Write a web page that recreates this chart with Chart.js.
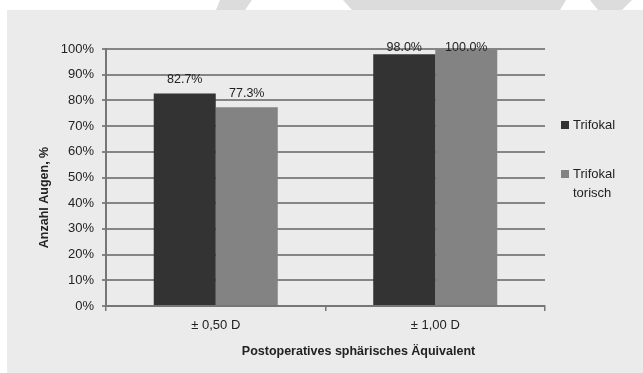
<!DOCTYPE html>
<html>
<head>
<meta charset="utf-8">
<script src="https://cdn.jsdelivr.net/npm/chart.js@4.4.1/dist/chart.umd.min.js"></script>
<style>
  html, body { margin: 0; padding: 0; background: #ffffff; }
  #wrap { width: 643px; height: 373px; }
</style>
</head>
<body>
<div id="wrap"><canvas id="c" width="643" height="373"></canvas></div>
<script>
// Kategorien (Zielbereich des sphärischen Äquivalents)
const categories = ['± 0,50 D', '± 1,00 D'];
// Serien
const seriesNames = ['Trifokal', 'Trifokal torisch'];
const trifokal = [82.7, 98.0];
const trifokalTorisch = [77.3, 100.0];
// Y-Achse
const yTicks = [0, 10, 20, 30, 40, 50, 60, 70, 80, 90, 100];
const yTitle = 'Anzahl Augen, %';
const xTitle = 'Postoperatives sphärisches Äquivalent';
// Legendentexte, zeilenweise umbrochen
const legendLines = [['Trifokal'], ['Trifokal', 'torisch']];

const COLORS = ['#333333', '#838383'];
const TEXT = '#222222';
const FONT = '"Liberation Sans", Arial, sans-serif';

Chart.defaults.font.family = FONT;
Chart.defaults.color = TEXT;

// Hintergrund: weiße Seite mit grauer Diagrammfläche
const backgroundPlugin = {
  id: 'panel',
  beforeDraw(chart) {
    const ctx = chart.ctx;
    ctx.save();
    ctx.fillStyle = '#ffffff';
    ctx.fillRect(0, 0, chart.width, chart.height);
    ctx.fillStyle = '#dcdcdd';
    const shapes = [
      [[220, 0], [252, 0], [245, 10], [216, 10]],
      [[343, 0], [566, 0], [560, 10], [352, 10]],
      [[590, 0], [632, 0], [622, 10], [598, 10]]
    ];
    shapes.forEach(p => {
      ctx.beginPath();
      ctx.moveTo(p[0][0], p[0][1]);
      for (let i = 1; i < p.length; i++) ctx.lineTo(p[i][0], p[i][1]);
      ctx.closePath();
      ctx.fill();
    });
    ctx.fillStyle = '#ebebeb';
    ctx.fillRect(7, 10, chart.width - 7, chart.height - 10);
    ctx.restore();
  }
};

// Wertebeschriftung über den Balken
const valueLabelPlugin = {
  id: 'valueLabels',
  afterDatasetsDraw(chart) {
    const ctx = chart.ctx;
    ctx.save();
    ctx.font = '12.5px ' + FONT;
    ctx.fillStyle = TEXT;
    ctx.textAlign = 'center';
    ctx.textBaseline = 'middle';
    chart.data.datasets.forEach((ds, di) => {
      const meta = chart.getDatasetMeta(di);
      meta.data.forEach((bar, i) => {
        const y = Math.max(bar.y - 14, chart.chartArea.top - 1);
        ctx.fillText(ds.data[i].toFixed(1) + '%', bar.x, y);
      });
    });
    ctx.restore();
  }
};

// Achsentitel und Legende
const decorPlugin = {
  id: 'decor',
  afterDraw(chart) {
    const ctx = chart.ctx;
    const area = chart.chartArea;
    ctx.save();
    ctx.fillStyle = TEXT;
    ctx.font = 'bold 12.5px ' + FONT;
    ctx.textAlign = 'center';
    ctx.textBaseline = 'middle';
    ctx.fillText(xTitle, area.left + area.width / 2 + 33, 352);
    ctx.save();
    ctx.translate(45, (area.top + area.bottom) / 2 + 20);
    ctx.rotate(-Math.PI / 2);
    ctx.fillText(yTitle, 0, 0);
    ctx.restore();

    // Legende
    ctx.font = '13px ' + FONT;
    ctx.textAlign = 'left';
    const rows = [125, 174];
    legendLines.forEach((lines, i) => {
      const y = rows[i];
      ctx.fillStyle = COLORS[i];
      ctx.fillRect(561, y - 4, 8, 8);
      ctx.fillStyle = TEXT;
      lines.forEach((t, j) => ctx.fillText(t, 573, y + j * 19));
    });
    ctx.restore();
  }
};

new Chart(document.getElementById('c'), {
  type: 'bar',
  data: {
    labels: categories,
    datasets: [
      { label: seriesNames[0], data: trifokal, backgroundColor: COLORS[0], borderWidth: 0,
        categoryPercentage: 0.565, barPercentage: 1.0 },
      { label: seriesNames[1], data: trifokalTorisch, backgroundColor: COLORS[1], borderWidth: 0,
        categoryPercentage: 0.565, barPercentage: 1.0 }
    ]
  },
  options: {
    responsive: false,
    animation: false,
    devicePixelRatio: 1,
    layout: { padding: { top: 49, right: 98, bottom: 0, left: 0 } },
    plugins: {
      legend: { display: false },
      tooltip: { enabled: false }
    },
    scales: {
      x: {
        grid: { display: true, drawOnChartArea: false, drawTicks: true, tickLength: 5,
                offset: true, color: '#767676', lineWidth: 1.5 },
        border: { display: true, color: '#767676', width: 2 },
        ticks: { font: { size: 13 }, color: TEXT, padding: 7, maxRotation: 0 },
        afterFit(s) { s.height = 67; }
      },
      y: {
        min: 0,
        max: 100,
        afterBuildTicks(s) { s.ticks = yTicks.map(v => ({ value: v })); },
        grid: { color: '#858585', lineWidth: 2, tickLength: 4, drawTicks: true },
        border: { display: true, color: '#767676', width: 2 },
        ticks: { font: { size: 13 }, color: TEXT, padding: 8,
                 callback: v => v + '%' },
        afterFit(s) { s.width = 106; }
      }
    }
  },
  plugins: [backgroundPlugin, valueLabelPlugin, decorPlugin]
});
</script>
</body>
</html>
